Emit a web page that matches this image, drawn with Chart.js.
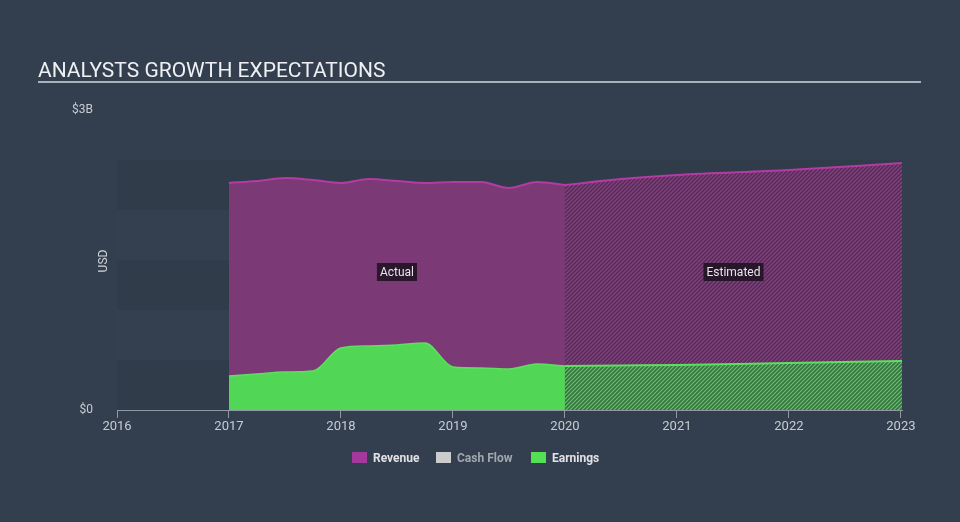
<!DOCTYPE html>
<html>
<head>
<meta charset="utf-8">
<script src="https://cdn.jsdelivr.net/npm/chart.js@4.4.1/dist/chart.umd.min.js"></script>
<style>
  html, body { margin: 0; padding: 0; background: #333f4e; }
  #wrap { width: 960px; height: 522px; position: relative; }
</style>
</head>
<body>
<div id="wrap"><canvas id="growth" width="960" height="522"></canvas></div>
<script>
// values in $ billions, x in decimal years
const actualYears    = [2017, 2017.25, 2017.5, 2017.75, 2018, 2018.25, 2018.5, 2018.75, 2019, 2019.25, 2019.5, 2019.75, 2020];
const actualRevenue  = [2.27, 2.29, 2.32, 2.30, 2.27, 2.31, 2.29, 2.27, 2.28, 2.28, 2.22, 2.28, 2.25];
const actualEarnings = [0.34, 0.36, 0.38, 0.39, 0.62, 0.64, 0.65, 0.67, 0.43, 0.42, 0.41, 0.46, 0.44];

const estYears    = [2020, 2020.5, 2021, 2022, 2023.01];
const estRevenue  = [2.25, 2.31, 2.35, 2.40, 2.47];
const estEarnings = [0.44, 0.445, 0.45, 0.47, 0.49];

const xTickValues = [2016, 2017, 2018, 2019, 2020, 2021, 2022, 2023];
const yTickValues = [0, 3];
const legendLabels = ['Revenue', 'Cash Flow', 'Earnings'];
const regionLabels = ['Actual', 'Estimated'];

const toPoints = (xs, ys) => xs.map((x, i) => ({ x: x, y: ys[i] }));

function makeHatch(bg, stripe) {
    const c = document.createElement('canvas');
    c.width = 4;
    c.height = 4;
    const g = c.getContext('2d');
    g.fillStyle = bg;
    g.fillRect(0, 0, 4, 4);
    g.strokeStyle = stripe;
    g.lineWidth = 1.2;
    g.beginPath();
    g.moveTo(0, 4); g.lineTo(4, 0);
    g.moveTo(-1, 1); g.lineTo(1, -1);
    g.moveTo(3, 5); g.lineTo(5, 3);
    g.stroke();
    return g.createPattern(c, 'repeat');
}

const purpleHatch = makeHatch('#582d58', '#8e4088');
const greenHatch = makeHatch('#3c6e47', '#5ccc5e');

const decor = {
    id: 'decor',
    beforeDatasetsDraw(chart) {
        const { ctx, chartArea: a, scales: { y } } = chart;
        ctx.save();
        for (let v = 0; v < 2.5; v += 0.5) {
            const top = y.getPixelForValue(v + 0.5);
            const bot = y.getPixelForValue(v);
            ctx.fillStyle = (v * 2) % 2 === 0 ? 'rgba(0,0,0,0.045)' : 'rgba(255,255,255,0.008)';
            ctx.fillRect(a.left, top, a.right - a.left, bot - top);
        }
        ctx.restore();
    },
    afterDraw(chart) {
        const { ctx, scales: { x, y } } = chart;
        ctx.save();

        // title + rule
        ctx.fillStyle = '#eef0f2';
        ctx.font = '21px Roboto';
        ctx.textBaseline = 'alphabetic';
        ctx.textAlign = 'left';
        ctx.fillText('ANALYSTS GROWTH EXPECTATIONS', 38, 77);
        ctx.fillStyle = '#aab0b8';
        ctx.fillRect(38, 81, 883, 2);

        // axis title
        ctx.save();
        ctx.translate(104, 261);
        ctx.rotate(-Math.PI / 2);
        ctx.fillStyle = '#d0d4da';
        ctx.font = '12px Roboto';
        ctx.textAlign = 'center';
        ctx.textBaseline = 'middle';
        ctx.fillText('USD', 0, 0);
        ctx.restore();

        // region labels
        const mids = [(actualYears[0] + actualYears[actualYears.length - 1]) / 2,
                      (estYears[0] + estYears[estYears.length - 1]) / 2];
        ctx.font = '12px Roboto';
        ctx.textAlign = 'center';
        ctx.textBaseline = 'middle';
        regionLabels.forEach((t, i) => {
            const cx = x.getPixelForValue(mids[i]);
            const cy = y.getPixelForValue(1.38);
            const w = ctx.measureText(t).width + 6;
            ctx.fillStyle = 'rgba(28,18,32,0.85)';
            ctx.fillRect(cx - w / 2, cy - 9, w, 18);
            ctx.fillStyle = '#e6e6ea';
            ctx.fillText(t, cx, cy + 0.5);
        });

        // legend
        const swatch = ['#a3399c', '#cccccc', '#53e055'];
        const textCol = ['#e2e2e6', '#a2a8b0', '#e2e2e6'];
        const startX = [352, 436, 531];
        ctx.font = 'bold 12px Roboto';
        ctx.textAlign = 'left';
        legendLabels.forEach((t, i) => {
            ctx.fillStyle = swatch[i];
            ctx.fillRect(startX[i], 452, 15, 11);
            ctx.fillStyle = textCol[i];
            ctx.fillText(t, startX[i] + 21, 458.5);
        });
        ctx.restore();
    }
};

new Chart(document.getElementById('growth'), {
    type: 'line',
    data: {
        datasets: [
            {
                label: 'Earnings',
                data: toPoints(actualYears, actualEarnings),
                borderColor: '#5ee05f',
                backgroundColor: '#52d655',
                borderWidth: 1.5,
                fill: 'origin'
            },
            {
                label: 'Earnings (estimated)',
                data: toPoints(estYears, estEarnings),
                borderColor: '#5ee05f',
                backgroundColor: greenHatch,
                borderWidth: 2,
                fill: 'origin'
            },
            {
                label: 'Revenue',
                data: toPoints(actualYears, actualRevenue),
                borderColor: '#b53aa3',
                backgroundColor: '#7b3a76',
                borderWidth: 2,
                fill: 'origin'
            },
            {
                label: 'Revenue (estimated)',
                data: toPoints(estYears, estRevenue),
                borderColor: '#b53aa3',
                backgroundColor: purpleHatch,
                borderWidth: 2,
                fill: 'origin'
            }
        ]
    },
    options: {
        responsive: false,
        animation: false,
        devicePixelRatio: 1,
        layout: { padding: { left: 0, top: 110, right: 58, bottom: 72 } },
        elements: {
            point: { radius: 0 },
            line: { cubicInterpolationMode: 'monotone' }
        },
        scales: {
            x: {
                type: 'linear',
                min: 2016,
                max: 2023.01,
                afterBuildTicks: s => { s.ticks = xTickValues.map(v => ({ value: v })); },
                afterFit: s => { s.height = 40; },
                ticks: {
                    color: '#c8ccd2',
                    font: { family: 'Roboto', size: 13 },
                    padding: 1,
                    maxRotation: 0,
                    callback: v => String(v)
                },
                grid: { display: true, drawOnChartArea: false, drawTicks: true, tickLength: 8, color: '#8f99a6' },
                border: { display: true, color: '#8f99a6', width: 1 }
            },
            y: {
                min: 0,
                max: 3,
                afterBuildTicks: s => { s.ticks = yTickValues.map(v => ({ value: v })); },
                afterFit: s => { s.width = 117; },
                ticks: {
                    color: '#c8ccd2',
                    font: { family: 'Roboto', size: 12 },
                    padding: 16,
                    callback: v => v === 0 ? '$0' : '$' + v + 'B'
                },
                grid: { display: false },
                border: { display: false }
            }
        },
        plugins: {
            legend: { display: false },
            tooltip: { enabled: false }
        }
    },
    plugins: [decor]
});
</script>
</body>
</html>
